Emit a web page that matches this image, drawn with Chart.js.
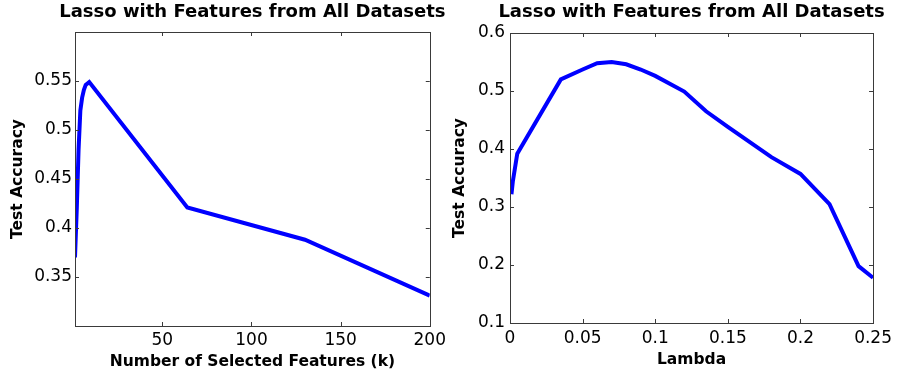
<!DOCTYPE html>
<html>
<head>
<meta charset="utf-8">
<script src="https://cdn.jsdelivr.net/npm/chart.js@4/dist/chart.umd.min.js"></script>
<style>
    html, body { margin: 0; padding: 0; background: #fff; }
    #wrap { position: relative; width: 897px; height: 378px; }
    #left_box { position: absolute; left: 0; top: 0; width: 450px; height: 378px; }
    #right_box { position: absolute; left: 450px; top: 0; width: 447px; height: 378px; }
</style>
</head>
<body>
<div id="wrap">
    <div id="left_box"><canvas id="k_chart" width="450" height="378"></canvas></div>
    <div id="right_box"><canvas id="lambda_chart" width="447" height="378"></canvas></div>
</div>
<script>
// left panel: accuracy vs number of selected features
const k_values = [1, 2, 3, 4, 5, 6, 7, 9, 64, 130, 200];
const k_accuracy = [0.37, 0.42, 0.48, 0.52, 0.533, 0.541, 0.546, 0.549, 0.421, 0.388, 0.331];
const k_xticks = [50, 100, 150, 200];
const k_yticks = [0.35, 0.4, 0.45, 0.5, 0.55];

// right panel: accuracy vs lambda
const lambda_values = [0.001, 0.002, 0.005, 0.035, 0.05, 0.06, 0.07, 0.08, 0.09, 0.1, 0.12, 0.135, 0.15, 0.18, 0.2, 0.22, 0.24, 0.25];
const lambda_accuracy = [0.322, 0.345, 0.392, 0.52, 0.537, 0.548, 0.55, 0.546, 0.537, 0.526, 0.499, 0.465, 0.438, 0.386, 0.357, 0.305, 0.198, 0.178];
const lambda_xticks = [0, 0.05, 0.1, 0.15, 0.2, 0.25];
const lambda_yticks = [0.1, 0.2, 0.3, 0.4, 0.5, 0.6];

const chart_title = 'Lasso with Features from All Datasets';
const font_family = '"DejaVu Sans", "Liberation Sans", Arial, sans-serif';

// matlab style box with inward ticks on all four sides
const boxPlugin = {
    id: 'matlabBox',
    afterLayout(chart) {
        // center the title over the plot area, not the whole canvas
        const a = chart.chartArea;
        const mid = (a.left + a.right) / 2;
        if (chart.titleBlock) {
            chart.titleBlock.left = mid - 215;
            chart.titleBlock.right = mid + 215;
            chart.titleBlock.width = 430;
        }
    },
    afterDatasetsDraw(chart) {
        const ctx = chart.ctx;
        const a = chart.chartArea;
        const len = 4;
        ctx.save();
        ctx.strokeStyle = '#3a3a3a';
        ctx.lineWidth = 1;
        ctx.strokeRect(Math.round(a.left) + 0.5, Math.round(a.top) + 0.5, Math.round(a.right - a.left), Math.round(a.bottom - a.top));
        ctx.beginPath();
        chart.scales.x.ticks.forEach(function (t) {
            var px = Math.round(chart.scales.x.getPixelForValue(t.value)) + 0.5;
            ctx.moveTo(px, a.bottom); ctx.lineTo(px, a.bottom - len);
            ctx.moveTo(px, a.top); ctx.lineTo(px, a.top + len);
        });
        chart.scales.y.ticks.forEach(function (t) {
            var py = Math.round(chart.scales.y.getPixelForValue(t.value)) + 0.5;
            ctx.moveTo(a.left, py); ctx.lineTo(a.left + len, py);
            ctx.moveTo(a.right, py); ctx.lineTo(a.right - len, py);
        });
        ctx.stroke();
        ctx.restore();
    }
};

function fmt(v) {
    return String(Math.round(v * 1000) / 1000);
}

function make_chart(id, xs, ys, cfg) {
    const points = xs.map(function (x, i) { return {x: x, y: ys[i]}; });
    return new Chart(document.getElementById(id), {
        type: 'line',
        data: {
            datasets: [{
                data: points,
                borderColor: '#0000ff',
                borderWidth: 4,
                pointRadius: 0,
                tension: 0,
                fill: false
            }]
        },
        options: {
            responsive: false,
            animation: false,
            devicePixelRatio: 1,
            layout: {padding: cfg.padding},
            plugins: {
                legend: {display: false},
                tooltip: {enabled: false},
                title: {
                    display: true,
                    text: chart_title,
                    color: '#000',
                    font: {family: font_family, size: 18, weight: 'bold'},
                    padding: {top: 2, bottom: cfg.titleGap}
                }
            },
            scales: {
                x: {
                    type: 'linear',
                    min: cfg.xmin,
                    max: cfg.xmax,
                    grid: {display: false, drawTicks: false},
                    border: {display: false},
                    afterBuildTicks: function (s) { s.ticks = cfg.xticks.map(function (v) { return {value: v}; }); },
                    afterFit: function (s) { s.height = cfg.xHeight; },
                    ticks: {
                        color: '#000',
                        padding: cfg.xTickPad,
                        maxRotation: 0,
                        font: {family: font_family, size: 17},
                        callback: fmt
                    },
                    title: {
                        display: true,
                        text: cfg.xlabel,
                        color: '#000',
                        font: {family: font_family, size: 15.5, weight: 'bold'},
                        padding: {top: 0, bottom: cfg.xTitlePad}
                    }
                },
                y: {
                    min: cfg.ymin,
                    max: cfg.ymax,
                    grid: {display: false, drawTicks: false},
                    border: {display: false},
                    afterBuildTicks: function (s) { s.ticks = cfg.yticks.map(function (v) { return {value: v}; }); },
                    afterFit: function (s) { s.width = cfg.yWidth; },
                    ticks: {
                        color: '#000',
                        padding: cfg.yTickPad,
                        font: {family: font_family, size: 17},
                        callback: fmt
                    },
                    title: {
                        display: true,
                        text: 'Test Accuracy',
                        color: '#000',
                        font: {family: font_family, size: 15.5, weight: 'bold'},
                        padding: {top: 0, bottom: 0}
                    }
                }
            }
        },
        plugins: [boxPlugin]
    });
}

make_chart('k_chart', k_values, k_accuracy, {
    xmin: 1, xmax: 200, ymin: 0.3, ymax: 0.6,
    xticks: k_xticks, yticks: k_yticks,
    xlabel: 'Number of Selected Features (k)',
    padding: {left: 9, right: 19, top: 0, bottom: 0},
    titleGap: 8.4,
    yWidth: 66, yTickPad: 3,
    xHeight: 52, xTickPad: 4, xTitlePad: 7
});

make_chart('lambda_chart', lambda_values, lambda_accuracy, {
    xmin: 0, xmax: 0.25, ymin: 0.1, ymax: 0.6,
    xticks: lambda_xticks, yticks: lambda_yticks,
    xlabel: 'Lambda',
    padding: {left: 1, right: 21, top: 0, bottom: 0},
    titleGap: 9.4,
    yWidth: 59, yTickPad: 5,
    xHeight: 55, xTickPad: 5, xTitlePad: 9
});
</script>
</body>
</html>
